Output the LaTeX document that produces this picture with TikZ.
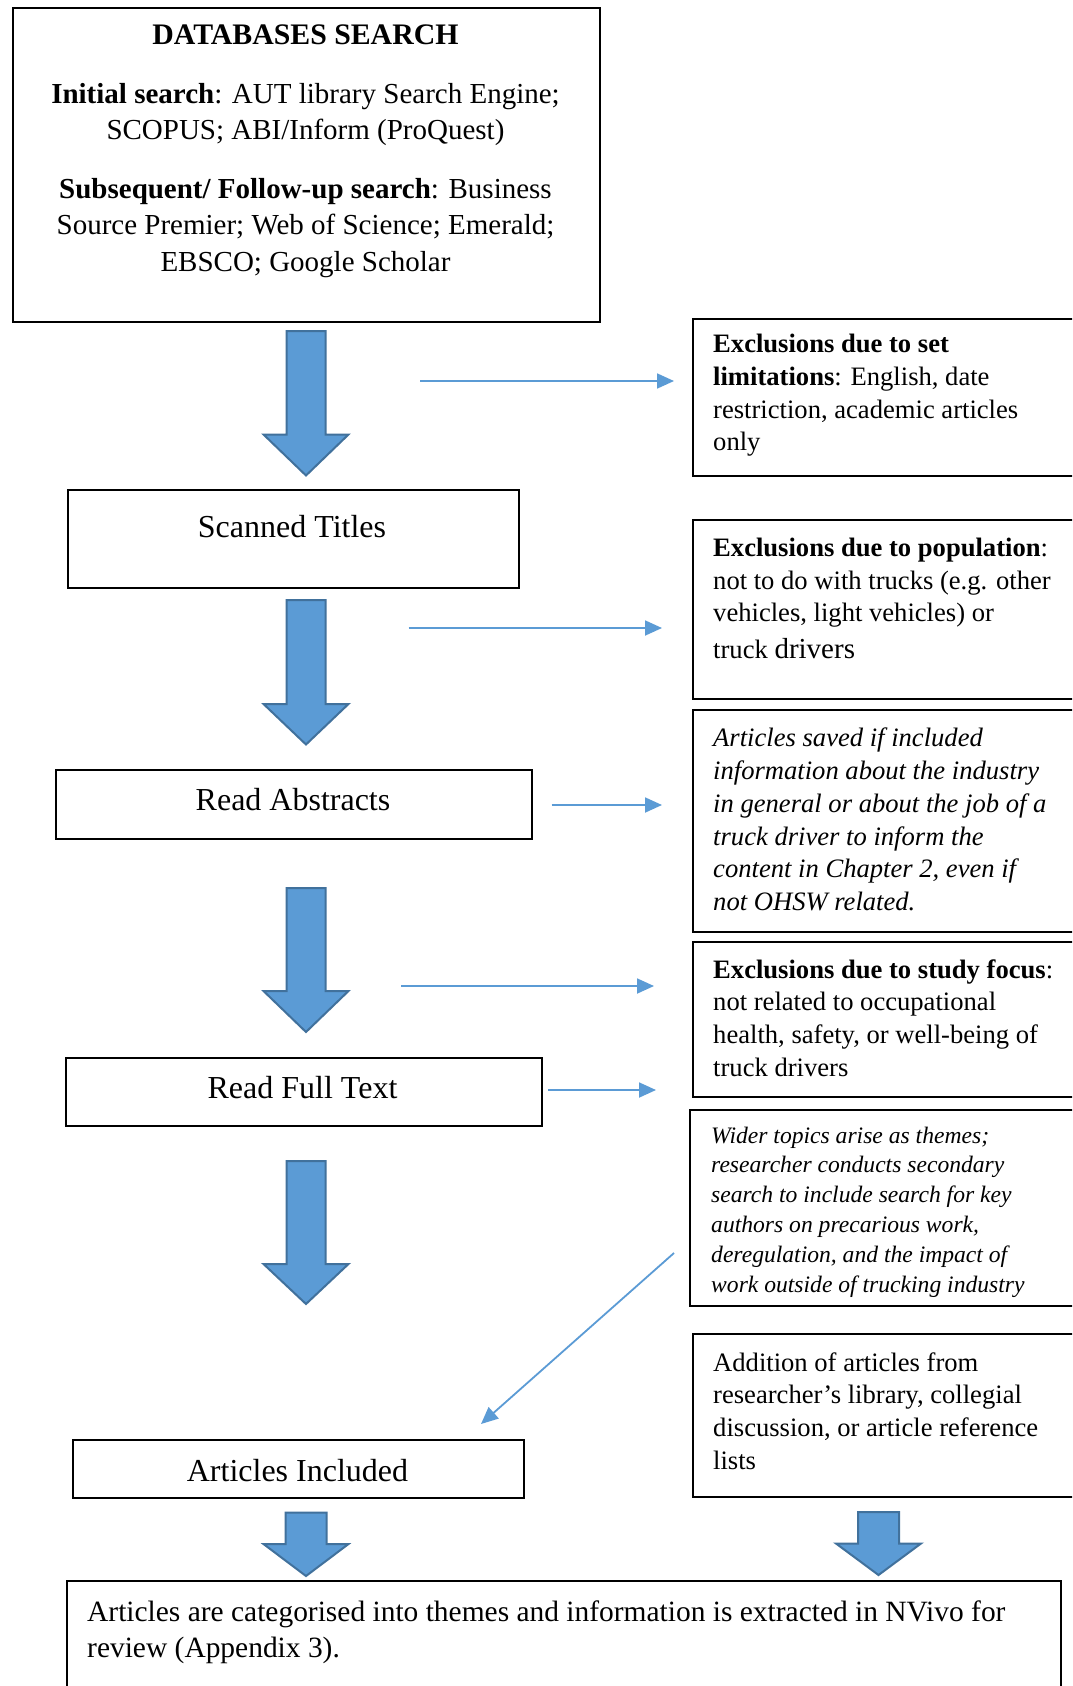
\documentclass[tikz,border=0pt]{standalone}
\usepackage{fontspec}
\setmainfont{Liberation Serif}
\usetikzlibrary{arrows.meta}
\definecolor{ablue}{HTML}{5B9BD5}
\definecolor{ablueline}{HTML}{41719C}
\tikzset{
  box/.style={draw=black, line width=2pt, inner sep=0pt, anchor=north west},
  flowline/.style={draw=ablue, line width=1.8pt, -{Triangle[length=17pt,width=15pt]}},
  bigarrow/.style={fill=ablue, draw=ablueline, line width=2pt, line join=miter},
  rtext/.style={anchor=west, align=left, inner sep=0pt, font=\fontsize{26.6}{32.7}\selectfont},
  itext/.style={rtext, font=\fontsize{26.6}{32.7}\selectfont\itshape},
  stext/.style={rtext, font=\fontsize{23.6}{29.8}\selectfont\itshape},
  label/.style={anchor=base, inner sep=0pt, font=\fontsize{32}{38}\selectfont}
}
\newcommand\blockarrow[5]{% x, top, headstart, tip, shaft half width
  \draw[bigarrow] ({#1-#5},#2) -- ({#1+#5},#2) -- ({#1+#5},#3) -- ({#1+42.5},#3)
    -- (#1,#4) -- ({#1-42.5},#3) -- ({#1-#5},#3) -- cycle;}
\begin{document}
\begin{tikzpicture}[x=1pt,y=-1pt]
\useasboundingbox (0,0) rectangle (1072,1686);
\fill[white] (0,0) rectangle (1072,1686);
\begin{scope}
\clip (0,0) rectangle (1072,1686);
% left column boxes
\node[box, minimum width=587pt, minimum height=313pt] (db) at (12,7.5) {};
\node[box, minimum width=451pt, minimum height=98pt] (st) at (66.5,488.5) {};
\node[box, minimum width=476pt, minimum height=69.5pt] (ra) at (55,768.5) {};
\node[box, minimum width=476.5pt, minimum height=68pt] (rf) at (64.5,1057) {};
\node[box, minimum width=450.5pt, minimum height=58pt] (ai) at (72,1439) {};
% right column boxes
\node[box, minimum width=393.5pt, minimum height=157.5pt] (r1) at (691.5,317.5) {};
\node[box, minimum width=393.5pt, minimum height=178.5pt] (r2) at (691.5,519) {};
\node[box, minimum width=393.5pt, minimum height=222pt] (r3) at (691.5,708.5) {};
\node[box, minimum width=393.5pt, minimum height=154.5pt] (r4) at (691.5,941) {};
\node[box, minimum width=396pt, minimum height=196pt] (r5) at (689,1108.5) {};
\node[box, minimum width=393.5pt, minimum height=162.5pt] (r6) at (691.5,1333) {};
\node[box, minimum width=994pt, minimum height=130pt] (bot) at (66,1580) {};
% texts
\node[align=center, inner sep=0pt, font=\fontsize{29}{36.5}\selectfont] (dbt) at (305.5,151.5) {%
  {\fontsize{29.8}{36.5}\selectfont\textbf{DATABASES SEARCH}}\\[22pt]
  \textbf{Initial search}: AUT library Search Engine;\\
  SCOPUS; ABI/Inform (ProQuest)\\[22pt]
  \textbf{Subsequent/ Follow-up search}: Business\\
  Source Premier; Web of Science; Emerald;\\
  EBSCO; Google Scholar};
\node[label] (stt) at (292,537) {Scanned Titles};
\node[label] (rat) at (293,810) {Read Abstracts};
\node[label] (rft) at (302.5,1098) {Read Full Text};
\node[label] (ait) at (297.5,1481) {Articles Included};
\node[rtext] (r1t) at (713,395.5) {\textbf{Exclusions due to set}\\
  \textbf{limitations}: English, date\\
  restriction, academic articles\\
  only};
\node[rtext] (r2t) at (713,598.5) {\textbf{Exclusions due to population}:\\
  not to do with trucks (e.g. other\\
  vehicles, light vehicles) or\\[4pt]
  truck {\fontsize{29}{32.7}\selectfont drivers}};
\node[itext] (r3t) at (713,819.5) {Articles saved if included\\
  information about the industry\\
  in general or about the job of a\\
  truck driver to inform the\\
  content in Chapter 2, even if\\
  not OHSW related.};
\node[rtext] (r4t) at (713,1018) {\textbf{Exclusions due to study focus}:\\
  not related to occupational\\
  health, safety, or well-being of\\
  truck drivers};
\node[stext] (r5t) at (711,1212) {Wider topics arise as themes;\\
  researcher conducts secondary\\
  search to include search for key\\
  authors on precarious work,\\
  deregulation, and the impact of\\
  work outside of trucking industry};
\node[rtext] (r6t) at (713,1411) {Addition of articles from\\
  researcher’s library, collegial\\
  discussion, or article reference\\
  lists};
\node[rtext, font=\fontsize{29.45}{35.5}\selectfont] (bott) at (87,1632) {Articles are categorised into themes and information is extracted in NVivo for\\
  review (Appendix 3).};
% block arrows
\blockarrow{306}{331}{434.5}{475.5}{19.5}
\blockarrow{306}{600}{704}{744.5}{19.5}
\blockarrow{306}{888}{991}{1032}{19.5}
\blockarrow{306}{1161}{1264}{1304}{19.5}
\blockarrow{306}{1512.5}{1544}{1576}{20.5}
\blockarrow{878.5}{1512}{1543.5}{1575}{20.5}
% thin arrows
\coordinate (a1s) at (420,381);   \coordinate (a1e) at (674,381);
\coordinate (a2s) at (408.5,628); \coordinate (a2e) at (662,628);
\coordinate (a3s) at (551.5,805); \coordinate (a3e) at (662,805);
\coordinate (a4s) at (401,986);   \coordinate (a4e) at (654,986);
\coordinate (a5s) at (548,1090);  \coordinate (a5e) at (656,1090);
\coordinate (a6s) at (674,1253);  \coordinate (a6e) at (481,1424);
\draw[flowline] (a1s) -- (a1e);
\draw[flowline] (a2s) -- (a2e);
\draw[flowline] (a3s) -- (a3e);
\draw[flowline] (a4s) -- (a4e);
\draw[flowline] (a5s) -- (a5e);
\draw[flowline] (a6s) -- (a6e);
\end{scope}
\end{tikzpicture}
\end{document}
